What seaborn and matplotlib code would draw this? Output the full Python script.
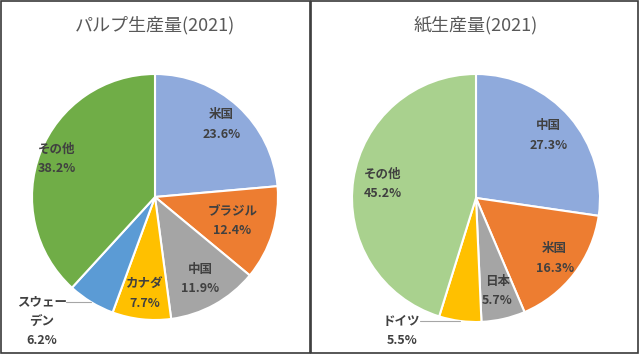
import numpy as np
import matplotlib
matplotlib.use("Agg")
from matplotlib import pyplot as plt
from matplotlib.patches import Rectangle
import seaborn as sns

# パルプ生産量(2021) - 割合(%)
pulp_names = ['米国', 'ブラジル', '中国', 'カナダ', 'スウェーデン', 'その他']
pulp_share = [23.6, 12.4, 11.9, 7.7, 6.2, 38.2]
pulp_colors = ['#8FAADC', '#ED7D31', '#A5A5A5', '#FFC000', '#5B9BD5', '#70AD47']

# 紙生産量(2021) - 割合(%)
paper_names = ['中国', '米国', '日本', 'ドイツ', 'その他']
paper_share = [27.3, 16.3, 5.7, 5.5, 45.2]
paper_colors = ['#8FAADC', '#ED7D31', '#A5A5A5', '#FFC000', '#A9D18E']

sns.set_theme(style='white')
plt.rcParams['font.family'] = ['Noto Sans CJK JP', 'DejaVu Sans']

W, H = 640, 354
fig = plt.figure(figsize=(W / 100, H / 100), dpi=100)

LABEL_COLOR = '#404040'
LABEL_SIZE = 9


def draw_pie(cx, cy, r, title, names, share, colors, inner_dist, outside, wrap):
    ax = fig.add_axes([(cx - r) / W, (H - cy - r) / H, 2 * r / W, 2 * r / H])
    wedges, _ = ax.pie(share, colors=colors, startangle=90, counterclock=False,
                       wedgeprops=dict(edgecolor='white', linewidth=1.5))
    ax.set_xlim(-1, 1)
    ax.set_ylim(-1, 1)
    ax.set_aspect('equal')
    ax.axis('off')
    for i, (w, name, val) in enumerate(zip(wedges, names, share)):
        mid = np.deg2rad((w.theta1 + w.theta2) / 2)
        txt = f"{wrap.get(name, name)}\n{val:.1f}%"
        if name in outside:
            dx_line, tdx, tdy = outside[name]
            ex, ey = np.cos(mid), np.sin(mid)
            ax.plot([ex, ex + dx_line], [ey, ey], color='#A6A6A6', lw=0.8,
                    clip_on=False)
            ax.text(ex + dx_line + tdx, ey + tdy, txt, ha='center', va='center',
                    fontsize=LABEL_SIZE, fontweight='bold', color=LABEL_COLOR,
                    linespacing=1.65, clip_on=False)
        else:
            d = inner_dist[i]
            ax.text(d * np.cos(mid), d * np.sin(mid), txt, ha='center', va='center',
                    fontsize=LABEL_SIZE, fontweight='bold', color=LABEL_COLOR,
                    linespacing=1.65)
    fig.text(cx / W, 1 - 25 / H, title, ha='center', va='center',
             fontsize=13, color='#595959')


draw_pie(155, 197, 123, 'パルプ生産量(2021)', pulp_names, pulp_share, pulp_colors,
         inner_dist=[0.80, 0.66, 0.76, 0.79, 0.8, 0.86],
         outside={'スウェーデン': (-0.2, -0.2, -0.155)},
         wrap={'スウェーデン': 'スウェー\nデン'})

draw_pie(476, 198, 124, '紙生産量(2021)', paper_names, paper_share, paper_colors,
         inner_dist=[0.77, 0.80, 0.77, 0.8, 0.76],
         outside={'ドイツ': (-0.32, -0.15, -0.08)},
         wrap={})

# panel borders
for x0, x1 in [(0.5, 309.5), (310.5, 637.5)]:
    fig.patches.append(Rectangle((x0 / W, 1.5 / H), (x1 - x0) / W, (H - 2.5) / H,
                                 transform=fig.transFigure, fill=False,
                                 edgecolor='#3A3A3A', linewidth=1.2))

fig.savefig('out.png', dpi=100, facecolor='white')
